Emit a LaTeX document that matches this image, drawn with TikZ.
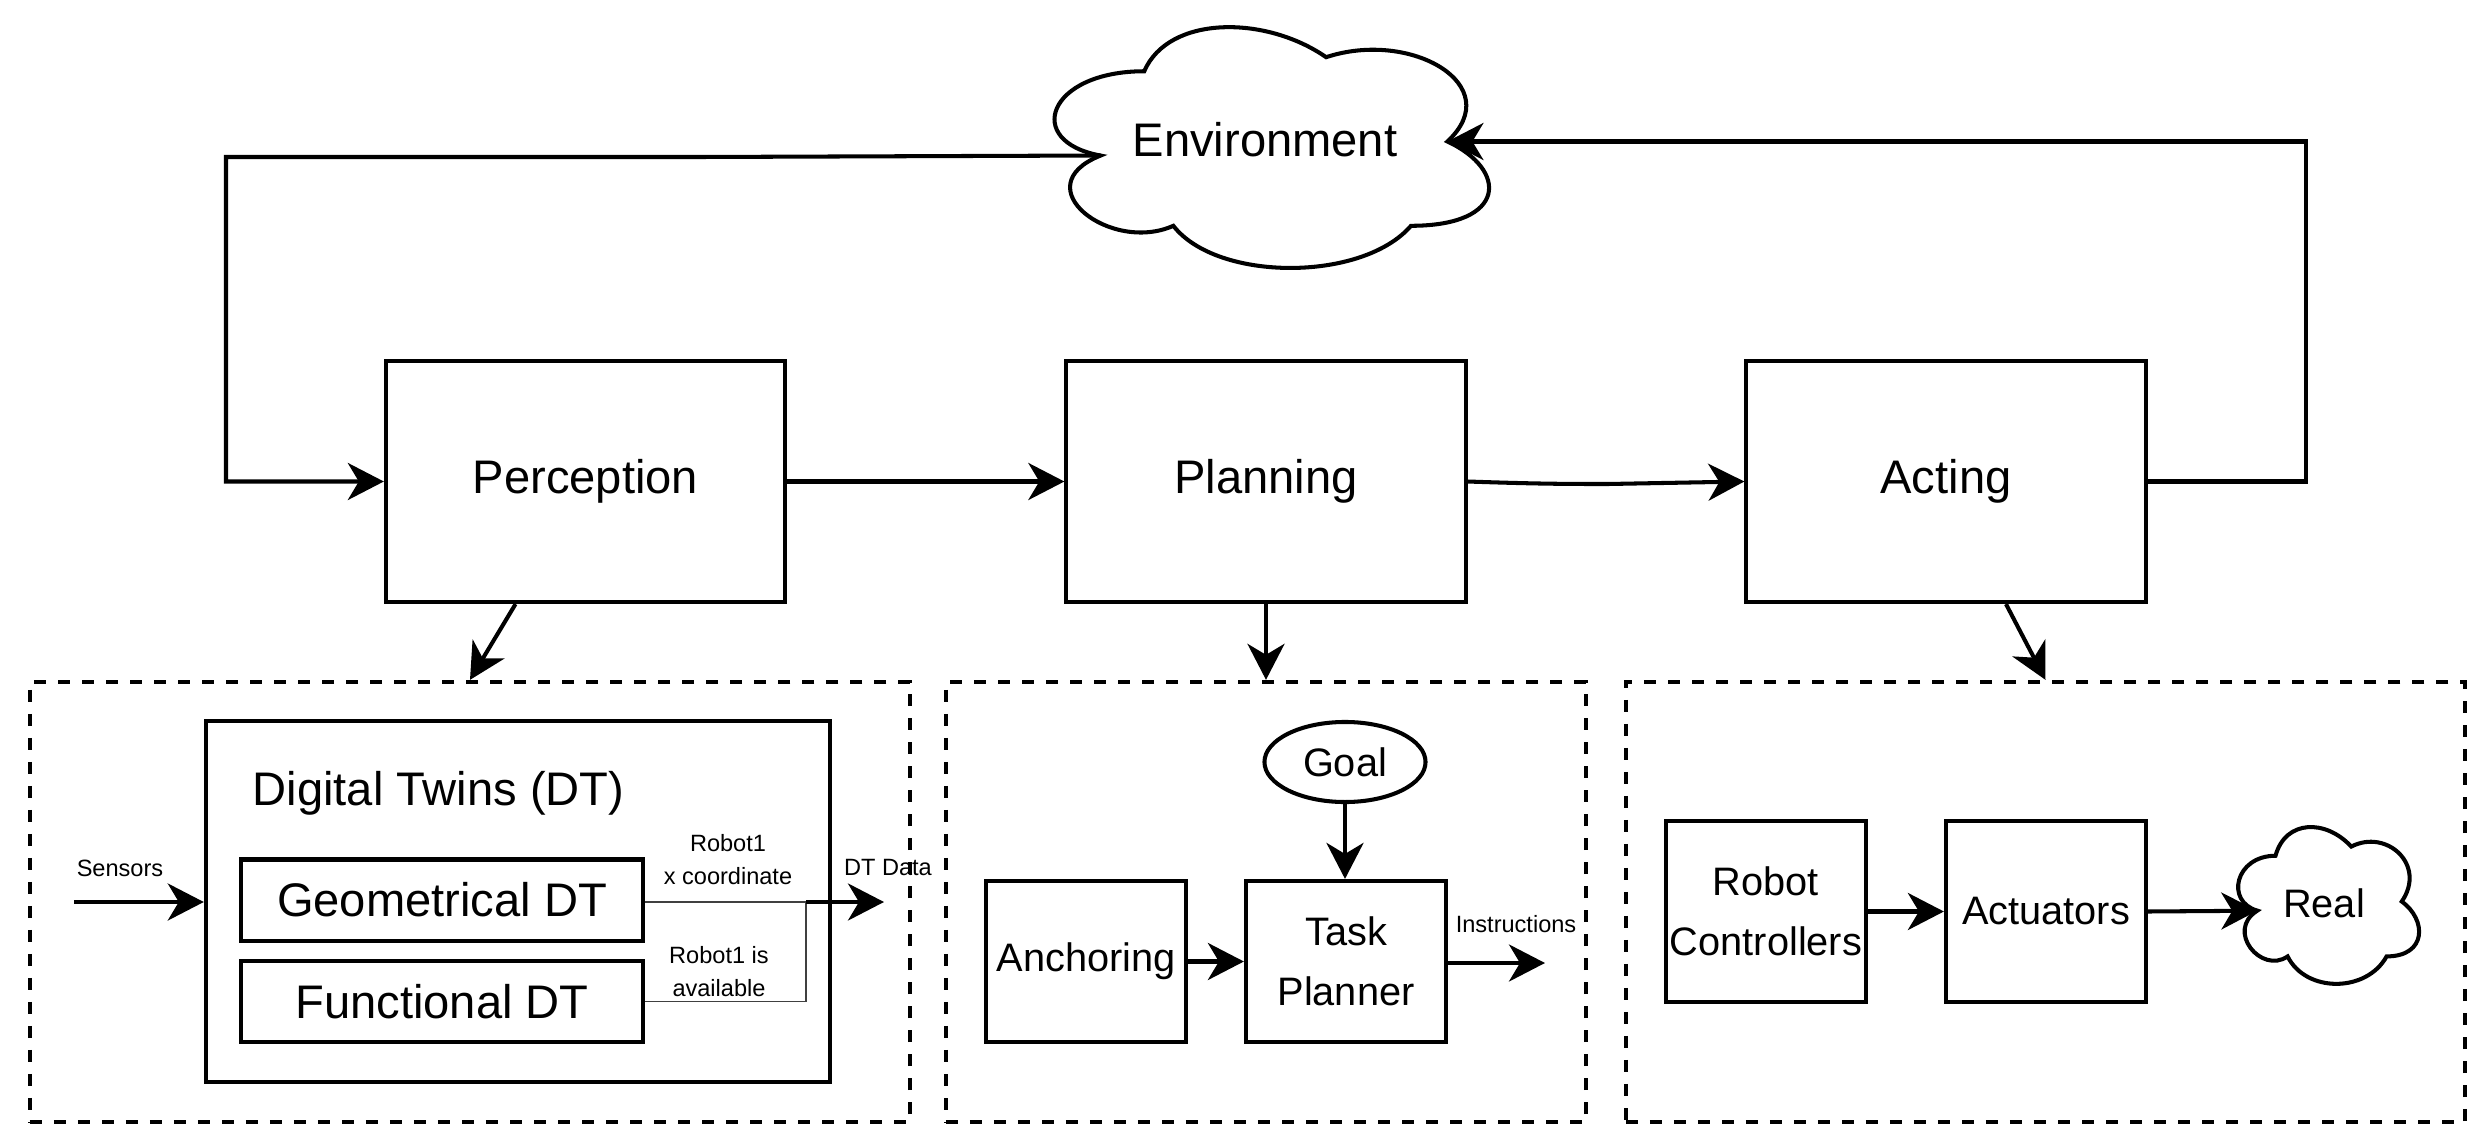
\documentclass[tikz,border=0pt]{standalone}
\usepackage{fontspec}
\setmainfont{Liberation Sans}
\usetikzlibrary{arrows.meta,shapes.geometric,calc}
% draw.io style cloud outline: x0, y0, w, h (in picture units)
\newcommand\drawioCloud[4]{%
  \draw[line] ({#1+0.25*#3},{#2+0.25*#4})
    .. controls ({#1+0.05*#3},{#2+0.25*#4}) and ({#1},{#2+0.5*#4}) .. ({#1+0.16*#3},{#2+0.55*#4})
    .. controls ({#1},{#2+0.66*#4}) and ({#1+0.18*#3},{#2+0.9*#4}) .. ({#1+0.31*#3},{#2+0.8*#4})
    .. controls ({#1+0.4*#3},{#2+#4}) and ({#1+0.7*#3},{#2+#4}) .. ({#1+0.8*#3},{#2+0.8*#4})
    .. controls ({#1+#3},{#2+0.8*#4}) and ({#1+#3},{#2+0.6*#4}) .. ({#1+0.875*#3},{#2+0.5*#4})
    .. controls ({#1+#3},{#2+0.3*#4}) and ({#1+0.8*#3},{#2+0.1*#4}) .. ({#1+0.625*#3},{#2+0.2*#4})
    .. controls ({#1+0.5*#3},{#2+0.05*#4}) and ({#1+0.3*#3},{#2+0.05*#4}) .. cycle;}
\tikzset{
  line/.style={line width=1.15pt},
  bigfont/.style={font=\fontsize{13.4pt}{16pt}\selectfont},
  midfont/.style={font=\fontsize{11.3pt}{17pt}\selectfont},
  smallfont/.style={font=\fontsize{6.7pt}{9.4pt}\selectfont},
  blk/.style={draw, line, rectangle, inner sep=0pt, align=center},
  grpbox/.style={draw, line, rectangle, inner sep=0pt, dash pattern=on 0.12cm off 0.12cm, minimum height=4.4cm},
  arr/.style={line, -{Stealth[length=0.36cm,width=0.37cm,inset=0.11cm]}},
  thinline/.style={line width=0.5pt, black!75},
  lbl/.style={inner sep=0pt, align=center},
}
\begin{document}
\begin{tikzpicture}[x=0.01cm, y=-0.01cm]
\useasboundingbox (0,0) rectangle (2468,1124);

% ---- top row ----
\node[blk, bigfont, minimum width=3.99cm, minimum height=2.41cm] (perc) at (585.5,481.5) {Perception};
\node[blk, bigfont, minimum width=3.99cm, minimum height=2.41cm] (plan) at (1266,481.5) {Planning};
\node[blk, bigfont, minimum width=3.99cm, minimum height=2.41cm] (act) at (1946,481.5) {Acting};

% environment cloud
\drawioCloud{1023}{1}{485}{281}
\node[lbl, bigfont] (env) at (1265,140) {Environment};
\coordinate (envL) at (1100.6,155.5);
\coordinate (envR) at (1447.4,141.5);

% ---- group boxes ----
\node[grpbox, minimum width=8.8cm] (grp1) at (470,902) {};
\node[grpbox, minimum width=6.4cm] (grp2) at (1266,902) {};
\node[grpbox, minimum width=8.39cm] (grp3) at (2045.5,902) {};

% ---- perception group ----
\node[blk, minimum width=6.24cm, minimum height=3.61cm] (dt) at (518,901.5) {};
\node[lbl, bigfont, anchor=west] (dttitle) at (252,793) {Digital Twins (DT)};
\node[blk, bigfont, minimum width=4.02cm, minimum height=0.81cm] (geo) at (442,900) {Geometrical DT};
\node[blk, bigfont, minimum width=4.02cm, minimum height=0.81cm] (func) at (442,1001.5) {Functional DT};
\coordinate (sens) at (74,902);
\coordinate (junc) at (806,902);
\coordinate (dtout) at (884,902);
\node[lbl, smallfont] (senslbl) at (120,868) {Sensors};
\node[lbl, smallfont] (dtdatalbl) at (888,868) {DT Data};
\node[lbl, smallfont] (xlbl) at (728,860) {Robot1\\x coordinate};
\node[lbl, smallfont] (availlbl) at (719,972) {Robot1 is\\available};

% ---- planning group ----
\node[draw, line, ellipse, inner sep=0pt, minimum width=1.61cm, minimum height=0.8cm, midfont] (goal) at (1345,762) {Goal};
\node[blk, midfont, minimum width=2.0cm, minimum height=1.61cm] (anch) at (1086,961.5) {Anchoring};
\node[blk, midfont, minimum width=2.0cm, minimum height=1.61cm] (task) at (1346,961.5) {Task\\Planner};
\coordinate (instrend) at (1545,963);
\node[lbl, smallfont] (instrlbl) at (1516,924) {Instructions};

% ---- acting group ----
\node[blk, midfont, minimum width=2.0cm, minimum height=1.81cm] (rc) at (1766,911.5) {Robot\\Controllers};
\node[blk, midfont, minimum width=2.0cm, minimum height=1.81cm] (actu) at (2046,911.5) {Actuators};
\drawioCloud{2225}{810}{202}{183}
\node[lbl, midfont] (real) at (2324,903) {Real};
\coordinate (realL) at (2257.3,910.7);

% ---- connectors ----
\draw[arr] (envL) -- (700,157) -- (226,157) -- (226,481.5) -- (perc.west);
\draw[arr] (perc.east) -- (plan.west);
\draw[arr] (plan.east) .. controls (1540,484) and (1570,484) .. (1608,484) -- (act.west);
\draw[arr] (act.east) -- (2306,481.5) -- (2306,141.5) -- (envR);
\draw[arr] ($(perc.south)+(-70,0)$) -- (grp1.north);
\draw[arr] (plan.south) -- (grp2.north);
\draw[arr] ($(act.south)+(60,0)$) -- (grp3.north);

\draw[arr] (sens) -- (dt.west |- sens);
\draw[thinline] (geo.east |- junc) -- (junc);
\draw[thinline] (func.east) -- (junc |- func.east) -- (junc);
\draw[arr] (junc) -- (dtout);

\draw[arr] (goal.south) -- (goal.south |- task.north);
\draw[arr] (anch.east) -- (task.west);
\draw[arr] (task.east |- instrend) -- (instrend);

\draw[arr] (rc.east) -- (actu.west);
\draw[arr] (actu.east) -- (realL);
\end{tikzpicture}
\end{document}
